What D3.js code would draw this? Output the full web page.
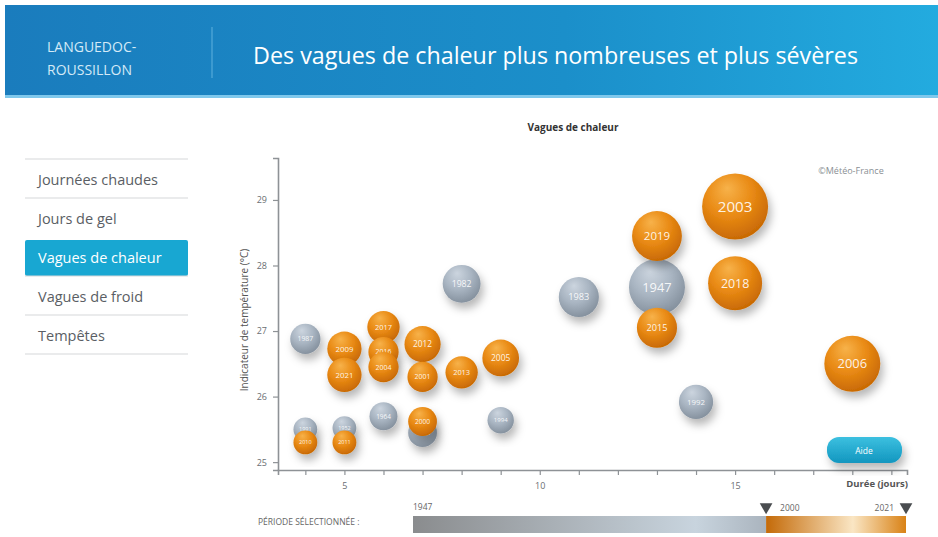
<!DOCTYPE html>
<html>
<head>
<meta charset="utf-8">
<script src="https://cdn.jsdelivr.net/npm/d3@7"></script>
<style>
  html, body { margin: 0; padding: 0; background: #fff; }
  svg { display: block; }
</style>
</head>
<body>
<svg id="chart" width="938" height="537"></svg>
<script>
// Heat waves in Languedoc-Roussillon: duration (days), temperature indicator (°C), severity
const years      = ["1947","1982","1983","1992","1987","1994","1964","1998","1991","1952",
                    "2003","2019","2018","2015","2006","2005","2013","2009","2021","2017",
                    "2016","2004","2012","2001","2000","2010","2011"];
const durations  = [13, 8, 11, 14, 4, 9, 6, 7, 4, 5,
                    15, 13, 15, 13, 18, 9, 8, 5, 5, 6,
                    6, 6, 7, 7, 7, 4, 5];
const temps      = [27.67, 27.72, 27.52, 25.92, 26.88, 25.64, 25.70, 25.45, 25.50, 25.52,
                    28.90, 28.45, 27.73, 27.05, 26.50, 26.59, 26.37, 26.73, 26.33, 27.06,
                    26.68, 26.45, 26.80, 26.30, 25.62, 25.30, 25.30];
const severity   = [72, 33, 37, 27, 21, 16, 18, 19, 13, 13,
                    100, 57, 67, 37, 72, 31, 24, 27, 27, 24,
                    21, 21, 30, 21, 19, 13, 13];
const xTicks     = [4,5,6,7,8,9,10,11,12,13,14,15,16,17,18,19];
const xLabels    = [5, 10, 15];
const yTicks     = [25, 26, 27, 28, 29];
const menuItems  = ["Journées chaudes", "Jours de gel", "Vagues de chaleur", "Vagues de froid", "Tempêtes"];
const activeItem = "Vagues de chaleur";
const periodStart = 1947, periodSplit = 2000, periodEnd = 2021;

const data = years.map((y, i) => ({
  year: y, dur: durations[i], temp: temps[i], sev: severity[i], recent: +y >= periodSplit
}));

const svg = d3.select("#chart");
const defs = svg.append("defs");

// ---------- header band ----------
const hg = defs.append("linearGradient").attr("id", "hdr").attr("x1", 0).attr("x2", 1);
hg.append("stop").attr("offset", 0).attr("stop-color", "#1a7cbd");
hg.append("stop").attr("offset", 0.6).attr("stop-color", "#1b8fca");
hg.append("stop").attr("offset", 1).attr("stop-color", "#23abdf");
svg.append("rect").attr("x", 5).attr("y", 5).attr("width", 933).attr("height", 92).attr("fill", "url(#hdr)");
svg.append("rect").attr("x", 5).attr("y", 95).attr("width", 933).attr("height", 3).attr("fill", "#7fc8ec");

const region = svg.append("text").attr("font-family", "Open Sans").attr("font-size", 14)
  .attr("fill", "#d4eaf7");
region.append("tspan").attr("x", 47).attr("y", 52).text("LANGUEDOC-");
region.append("tspan").attr("x", 47).attr("y", 75).text("ROUSSILLON");
svg.append("line").attr("x1", 212).attr("x2", 212).attr("y1", 27).attr("y2", 78)
  .attr("stroke", "#5fb1de").attr("stroke-width", 1);
svg.append("text").attr("x", 253).attr("y", 64).attr("font-family", "Open Sans")
  .attr("font-size", 23).attr("fill", "#ffffff").attr("textLength", 605)
  .attr("lengthAdjust", "spacingAndGlyphs")
  .text("Des vagues de chaleur plus nombreuses et plus sévères");

// ---------- side menu ----------
const menu = svg.append("g");
const menuY = d3.scaleBand().domain(menuItems).range([160, 355]).paddingInner(0);
menuItems.forEach((m, i) => {
  const y0 = menuY(m);
  if (m === activeItem) {
    menu.append("rect").attr("x", 25).attr("y", y0 + 2).attr("width", 163).attr("height", menuY.bandwidth() - 3)
      .attr("rx", 2).attr("fill", "#18a7d2");
  }
  menu.append("text").attr("x", 38).attr("y", y0 + menuY.bandwidth() / 2 + 5)
    .attr("font-family", "Open Sans").attr("font-size", 14.5)
    .attr("fill", m === activeItem ? "#ffffff" : "#5a5e64").text(m);
});
[0, 1, 3, 4, 5].forEach(i => {
  const y = i < menuItems.length ? menuY(menuItems[i]) : menuY.range()[1];
  menu.append("line").attr("x1", 25).attr("x2", 188).attr("y1", y - 1).attr("y2", y - 1)
    .attr("stroke", "#d6d8da").attr("stroke-width", 1.2);
});

// ---------- scales ----------
const x = d3.scaleLinear().domain([3.3, 19.4]).range([278, 907]);
const y = d3.scaleLinear().domain([24.88, 29.64]).range([470, 158]);
const r = d3.scaleSqrt().domain([0, 100]).range([0, 33]);

// chart title
svg.append("text").attr("x", 573).attr("y", 131).attr("text-anchor", "middle")
  .attr("font-family", "Open Sans").attr("font-weight", "bold").attr("font-size", 10)
  .attr("fill", "#333").text("Vagues de chaleur");

svg.append("text").attr("x", 851).attr("y", 174).attr("text-anchor", "middle")
  .attr("font-family", "Open Sans").attr("font-size", 9).attr("fill", "#8a8f94")
  .text("©Météo-France");

// ---------- axes ----------
const axisColor = "#8e9296";
const yAxis = svg.append("g").attr("transform", `translate(${x.range()[0]},0)`)
  .call(d3.axisLeft(y).tickValues(yTicks).tickSize(5).tickPadding(6).tickFormat(d3.format("d")));
const xAxis = svg.append("g").attr("transform", `translate(0,${y.range()[0]})`)
  .call(d3.axisBottom(x).tickValues(xTicks).tickSize(5).tickPadding(8)
    .tickFormat(d => xLabels.includes(d) ? d : ""));
[yAxis, xAxis].forEach(a => {
  a.select(".domain").attr("stroke", axisColor).attr("stroke-width", 1.6);
  a.selectAll(".tick line").attr("stroke", axisColor).attr("stroke-width", 1.2);
  a.selectAll(".tick text").attr("fill", "#6a6e72").attr("font-family", "Open Sans").attr("font-size", 9);
});

svg.append("text").attr("transform", `translate(248,${(y.range()[0] + y.range()[1]) / 2 + 6}) rotate(-90)`)
  .attr("text-anchor", "middle").attr("font-family", "Open Sans").attr("font-size", 10)
  .attr("fill", "#555").text("Indicateur de température (°C)");
svg.append("text").attr("x", 908).attr("y", 487).attr("text-anchor", "end")
  .attr("font-family", "Open Sans").attr("font-weight", "bold").attr("font-size", 9.5)
  .attr("fill", "#555").text("Durée (jours)");

// ---------- bubble styles ----------
function ballGradient(id, hi, mid, lo) {
  const g = defs.append("radialGradient").attr("id", id)
    .attr("cx", "42%").attr("cy", "35%").attr("r", "65%").attr("fx", "38%").attr("fy", "22%");
  g.append("stop").attr("offset", 0).attr("stop-color", hi);
  g.append("stop").attr("offset", 0.55).attr("stop-color", mid);
  g.append("stop").attr("offset", 1).attr("stop-color", lo);
}
ballGradient("ballOrange", "#f7b24a", "#e98a14", "#c96a05");
ballGradient("ballGrey", "#ccd5df", "#a9b5c2", "#86929f");

const sh = defs.append("filter").attr("id", "shadow").attr("x", "-50%").attr("y", "-50%")
  .attr("width", "200%").attr("height", "200%");
sh.append("feDropShadow").attr("dx", 3).attr("dy", 6).attr("stdDeviation", 4)
  .attr("flood-color", "#000").attr("flood-opacity", 0.28);

const bubbles = svg.append("g");
const ordered = data.filter(d => !d.recent).concat(data.filter(d => d.recent));
const node = bubbles.selectAll("g.bubble").data(ordered).join("g")
  .attr("class", "bubble")
  .attr("transform", d => `translate(${x(d.dur)},${y(d.temp)})`);
node.append("circle").attr("r", d => r(d.sev))
  .attr("fill", d => d.recent ? "url(#ballOrange)" : "url(#ballGrey)")
  .attr("filter", "url(#shadow)");
node.append("text").attr("text-anchor", "middle").attr("dy", "0.35em")
  .attr("font-family", "Open Sans").attr("font-size", d => r(d.sev) * 0.46)
  .attr("fill", "#fff").attr("fill-opacity", 0.9)
  .text(d => d.year);

// ---------- help button ----------
const bg = defs.append("linearGradient").attr("id", "btn").attr("x1", 0).attr("x2", 0).attr("y1", 0).attr("y2", 1);
bg.append("stop").attr("offset", 0).attr("stop-color", "#3cc0e0");
bg.append("stop").attr("offset", 1).attr("stop-color", "#1296bf");
svg.append("rect").attr("x", 827).attr("y", 437).attr("width", 75).attr("height", 26).attr("rx", 12)
  .attr("fill", "url(#btn)").attr("filter", "url(#shadow)");
svg.append("text").attr("x", 864).attr("y", 454).attr("text-anchor", "middle")
  .attr("font-family", "Open Sans").attr("font-size", 8.5).attr("fill", "#fff").text("Aide");

// ---------- selected period bar ----------
const px = d3.scaleLinear().domain([periodStart, periodEnd]).range([413, 906]);
svg.append("text").attr("x", 258).attr("y", 525).attr("font-family", "Open Sans")
  .attr("font-size", 8.5).attr("fill", "#666").text("PÉRIODE SÉLECTIONNÉE :");
const gg = defs.append("linearGradient").attr("id", "periodGrey").attr("x1", 0).attr("x2", 1);
gg.append("stop").attr("offset", 0).attr("stop-color", "#8a8c8e");
gg.append("stop").attr("offset", 0.8).attr("stop-color", "#c8d4de");
gg.append("stop").attr("offset", 1).attr("stop-color", "#aab4be");
const og = defs.append("linearGradient").attr("id", "periodOrange").attr("x1", 0).attr("x2", 1);
og.append("stop").attr("offset", 0).attr("stop-color", "#c46a08");
og.append("stop").attr("offset", 0.62).attr("stop-color", "#fae6c4");
og.append("stop").attr("offset", 1).attr("stop-color", "#d98216");
const splitX = px(periodSplit);
svg.append("rect").attr("x", px(periodStart)).attr("y", 516).attr("width", splitX - px(periodStart))
  .attr("height", 17).attr("fill", "url(#periodGrey)");
svg.append("rect").attr("x", splitX).attr("y", 516).attr("width", px(periodEnd) - splitX)
  .attr("height", 17).attr("fill", "url(#periodOrange)");
svg.append("text").attr("x", px(periodStart)).attr("y", 510).attr("font-family", "Open Sans")
  .attr("font-size", 8.5).attr("fill", "#666").text(periodStart);
svg.append("text").attr("x", splitX + 14).attr("y", 511).attr("font-family", "Open Sans")
  .attr("font-size", 8.5).attr("fill", "#666").text(periodSplit);
svg.append("text").attr("x", px(periodEnd) - 12).attr("y", 511).attr("text-anchor", "end")
  .attr("font-family", "Open Sans").attr("font-size", 8.5).attr("fill", "#666").text(periodEnd);
const tri = d3.symbol().type(d3.symbolTriangle).size(70);
[splitX, px(periodEnd)].forEach(tx => {
  svg.append("path").attr("d", tri()).attr("fill", "#4a4d50")
    .attr("transform", `translate(${tx},${507}) rotate(180)`);
});
</script>
</body>
</html>
